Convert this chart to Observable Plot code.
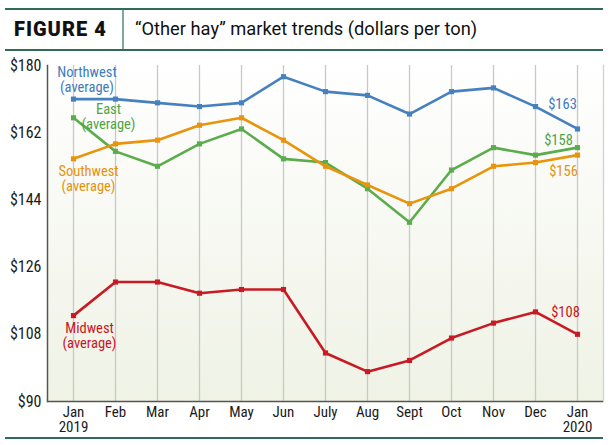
<!DOCTYPE html>
<html>
<head>
<meta charset="utf-8">
<script src="https://cdn.jsdelivr.net/npm/d3@7"></script>
<script src="https://cdn.jsdelivr.net/npm/@observablehq/plot@0.6"></script>
<style>
  html, body { margin: 0; padding: 0; background: #fff; }
  #wrap { position: relative; width: 610px; height: 445px; overflow: hidden; }
  #header { position: relative; width: 610px; height: 55px; }
  .hline { position: absolute; left: 5px; width: 598px; height: 2px; background: #2f6b58; }
  #sep { position: absolute; left: 122px; top: 10px; width: 2px; height: 39px; background: #7ea897; }
  #fig { position: absolute; left: 14px; top: 17px; font: 900 20px Roboto, "Open Sans", sans-serif; color: #111; letter-spacing: 1px; }
  #title { position: absolute; left: 135px; top: 18px; font: 400 18.3px Roboto, "Open Sans", sans-serif; color: #111; }
  #chart { position: absolute; left: 0; top: 55px; }
  #foot { position: absolute; left: 5px; top: 437px; width: 598px; height: 2px; background: #2f6b58; }
</style>
</head>
<body>
<div id="wrap">
  <div id="header">
    <div class="hline" style="top:8px"></div>
    <div class="hline" style="top:49px"></div>
    <div id="sep"></div>
    <div id="fig">FIGURE 4</div>
    <div id="title">“Other hay” market trends (dollars per ton)</div>
  </div>
  <div id="chart"></div>
  <div id="foot"></div>
</div>
<script>
const months = ["Jan\n2019","Feb","Mar","Apr","May","Jun","July","Aug","Sept","Oct","Nov","Dec","Jan\n2020"];
const seriesNames = ["Northwest","East","Southwest","Midwest"];
const northwest = [171,171,170,169,170,177,173,172,167,173,174,169,163];
const east      = [166,157,153,159,163,155,154,147,138,152,158,156,158];
const southwest = [155,159,160,164,166,160,153,148,143,147,153,154,156];
const midwest   = [113,122,122,119,120,120,103,98,101,107,111,114,108];
const yTicks = [90,108,126,144,162,180];
const colors = ["#4680be","#5aac4c","#e8940c","#c81a22"];

const valuesBySeries = [northwest, east, southwest, midwest];
const rows = seriesNames.flatMap((s, i) => valuesBySeries[i].map((v, j) => ({series: s, month: months[j], value: v})));

const first = (i, label) => [{month: months[0], value: valuesBySeries[i][0], label}];
const last = (i) => { const arr = valuesBySeries[i]; return [{month: months[months.length-1], value: arr[arr.length-1], label: "$" + arr[arr.length-1]}]; };

const font = '"Liberation Sans Narrow", "Arial Narrow", "Roboto Condensed", sans-serif';
const lab = (data, color, dx, dy) => Plot.text(data, {x: "month", y: "value", text: "label", fill: color, dx, dy, fontSize: 14.5, lineHeight: 1, fontFamily: font});

const plot = Plot.plot({
  width: 610,
  height: 390,
  marginLeft: 47,
  marginRight: 7,
  marginTop: 10,
  marginBottom: 44,
  style: {fontFamily: font, fontSize: "16px", color: "#1a1a1a", background: "transparent", overflow: "visible"},
  x: {type: "point", domain: months, padding: 0.48},
  y: {domain: [90, 180]},
  color: {domain: seriesNames, range: colors},
  marks: [
    Plot.frame({fill: "#f5f7ef", stroke: null}),
    Plot.ruleX(months, {stroke: "#c8c8c8", strokeWidth: 1.3}),
    Plot.frame({anchor: "right", stroke: "#d2d2d2", strokeWidth: 1.3}),
    Plot.frame({anchor: "left", stroke: "#555", strokeWidth: 1.5}),
    Plot.ruleY([90], {stroke: "#555", strokeWidth: 1.5}),
    Plot.axisX({tickSize: 0, tickPadding: 5, fontSize: 15, lineHeight: 1, label: null}),
    Plot.axisY({ticks: yTicks, tickFormat: d => "$" + d, tickSize: 0, tickPadding: 6, label: null}),
    Plot.line(rows, {x: "month", y: "value", z: "series", stroke: "series", strokeWidth: 2.6}),
    Plot.dot(rows, {x: "month", y: "value", fill: "series", symbol: "square", r: 2.9}),
    lab(first(0, "Northwest\n(average)"), "#3f7bbd", 13.5, -19),
    lab(first(1, "East\n(average)"), "#4fa445", 35, -1),
    lab(first(2, "Southwest\n(average)"), "#e59210", 15, 20),
    lab(first(3, "Midwest\n(average)"), "#c8161e", 16, 20),
    lab(last(0), "#3f7bbd", -15, -25),
    lab(last(1), "#4fa445", -19, -7),
    lab(last(2), "#e59210", -14, 16.5),
    lab(last(3), "#c8161e", -12, -22)
  ]
});

// gradient background for the plot frame
const svg = d3.select(plot);
const defs = svg.insert("defs", ":first-child");
const g = defs.append("linearGradient").attr("id", "bg").attr("x1", 0).attr("y1", 0).attr("x2", 0).attr("y2", 1);
g.append("stop").attr("offset", "0%").attr("stop-color", "#ffffff");
g.append("stop").attr("offset", "100%").attr("stop-color", "#eff2e5");
svg.select('[aria-label="frame"]').attr("fill", "url(#bg)");
svg.selectAll('[aria-label="frame"] rect').attr("fill", "url(#bg)");

document.getElementById("chart").appendChild(plot);
</script>
</body>
</html>
